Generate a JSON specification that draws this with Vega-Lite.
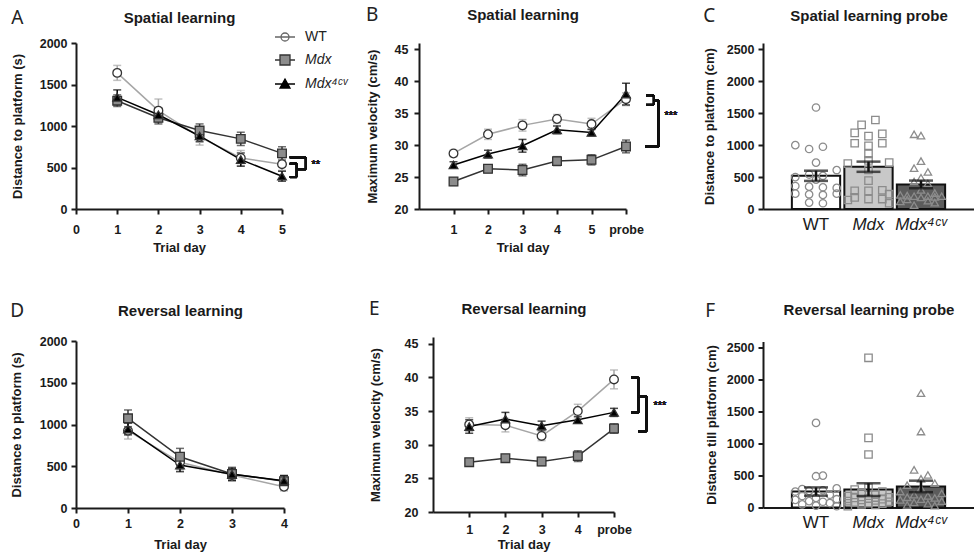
{
  "$schema": "https://vega.github.io/schema/vega-lite/v6.json",
  "background": "white",
  "padding": {"left": 10, "top": 6, "right": 0, "bottom": 0},
  "datasets": {
    "spatialDist": [
      {"group": "WT", "day": 1, "mean": 1640, "sem": 90},
      {"group": "WT", "day": 2, "mean": 1185, "sem": 140},
      {"group": "WT", "day": 3, "mean": 870, "sem": 100},
      {"group": "WT", "day": 4, "mean": 615, "sem": 90},
      {"group": "WT", "day": 5, "mean": 540, "sem": 75},
      {"group": "Mdx", "day": 1, "mean": 1305, "sem": 70},
      {"group": "Mdx", "day": 2, "mean": 1100, "sem": 75},
      {"group": "Mdx", "day": 3, "mean": 945, "sem": 80},
      {"group": "Mdx", "day": 4, "mean": 845, "sem": 80},
      {"group": "Mdx", "day": 5, "mean": 670, "sem": 80},
      {"group": "Mdx4cv", "day": 1, "mean": 1345, "sem": 90},
      {"group": "Mdx4cv", "day": 2, "mean": 1135, "sem": 80},
      {"group": "Mdx4cv", "day": 3, "mean": 880, "sem": 70},
      {"group": "Mdx4cv", "day": 4, "mean": 595, "sem": 80},
      {"group": "Mdx4cv", "day": 5, "mean": 395, "sem": 60}
    ],
    "spatialVel": [
      {"group": "WT", "day": 1, "mean": 28.7, "sem": 0.5},
      {"group": "WT", "day": 2, "mean": 31.7, "sem": 0.8},
      {"group": "WT", "day": 3, "mean": 33.1, "sem": 0.9},
      {"group": "WT", "day": 4, "mean": 34.1, "sem": 0.7},
      {"group": "WT", "day": 5, "mean": 33.3, "sem": 0.9},
      {"group": "WT", "day": 6, "mean": 37.2, "sem": 1.0},
      {"group": "Mdx", "day": 1, "mean": 24.3, "sem": 0.6},
      {"group": "Mdx", "day": 2, "mean": 26.3, "sem": 0.6},
      {"group": "Mdx", "day": 3, "mean": 26.1, "sem": 0.9},
      {"group": "Mdx", "day": 4, "mean": 27.5, "sem": 0.7},
      {"group": "Mdx", "day": 5, "mean": 27.7, "sem": 0.8},
      {"group": "Mdx", "day": 6, "mean": 29.8, "sem": 1.0},
      {"group": "Mdx4cv", "day": 1, "mean": 26.9, "sem": 0.5},
      {"group": "Mdx4cv", "day": 2, "mean": 28.6, "sem": 0.6},
      {"group": "Mdx4cv", "day": 3, "mean": 29.9, "sem": 1.0},
      {"group": "Mdx4cv", "day": 4, "mean": 32.4, "sem": 0.6},
      {"group": "Mdx4cv", "day": 5, "mean": 32.0, "sem": 0.5},
      {"group": "Mdx4cv", "day": 6, "mean": 38.0, "sem": 1.7}
    ],
    "probeSpatialSummary": [
      {"group": "WT", "mean": 520, "sem": 80},
      {"group": "Mdx", "mean": 662, "sem": 80},
      {"group": "Mdx4cv", "mean": 385, "sem": 60}
    ],
    "probeSpatialPoints": [
      {"group": "WT", "value": 1590, "slot": 4}, {"group": "WT", "value": 1000, "slot": 1}, {"group": "WT", "value": 940, "slot": 3}, {"group": "WT", "value": 975, "slot": 5},
      {"group": "WT", "value": 727, "slot": 4}, {"group": "WT", "value": 610, "slot": 7}, {"group": "WT", "value": 540, "slot": 3}, {"group": "WT", "value": 520, "slot": 5},
      {"group": "WT", "value": 500, "slot": 1}, {"group": "WT", "value": 460, "slot": 4}, {"group": "WT", "value": 360, "slot": 1}, {"group": "WT", "value": 350, "slot": 3},
      {"group": "WT", "value": 340, "slot": 5}, {"group": "WT", "value": 330, "slot": 7}, {"group": "WT", "value": 240, "slot": 1}, {"group": "WT", "value": 230, "slot": 3},
      {"group": "WT", "value": 220, "slot": 5}, {"group": "WT", "value": 240, "slot": 7}, {"group": "WT", "value": 100, "slot": 3}, {"group": "WT", "value": 90, "slot": 5},
      {"group": "Mdx", "value": 1394, "slot": 5}, {"group": "Mdx", "value": 1318, "slot": 3}, {"group": "Mdx", "value": 1192, "slot": 2}, {"group": "Mdx", "value": 1141, "slot": 4},
      {"group": "Mdx", "value": 1177, "slot": 6}, {"group": "Mdx", "value": 1030, "slot": 2}, {"group": "Mdx", "value": 990, "slot": 4}, {"group": "Mdx", "value": 1030, "slot": 6},
      {"group": "Mdx", "value": 864, "slot": 4}, {"group": "Mdx", "value": 760, "slot": 4}, {"group": "Mdx", "value": 712, "slot": 1}, {"group": "Mdx", "value": 727, "slot": 7},
      {"group": "Mdx", "value": 611, "slot": 4}, {"group": "Mdx", "value": 444, "slot": 4}, {"group": "Mdx", "value": 283, "slot": 2}, {"group": "Mdx", "value": 283, "slot": 4},
      {"group": "Mdx", "value": 293, "slot": 6}, {"group": "Mdx", "value": 182, "slot": 2}, {"group": "Mdx", "value": 156, "slot": 4}, {"group": "Mdx", "value": 156, "slot": 6},
      {"group": "Mdx", "value": 141, "slot": 1}, {"group": "Mdx", "value": 232, "slot": 7}, {"group": "Mdx", "value": 91, "slot": 7},
      {"group": "Mdx4cv", "value": 1170, "slot": 3}, {"group": "Mdx4cv", "value": 1150, "slot": 4}, {"group": "Mdx4cv", "value": 750, "slot": 4}, {"group": "Mdx4cv", "value": 640, "slot": 3},
      {"group": "Mdx4cv", "value": 580, "slot": 5}, {"group": "Mdx4cv", "value": 490, "slot": 4}, {"group": "Mdx4cv", "value": 430, "slot": 3}, {"group": "Mdx4cv", "value": 400, "slot": 5},
      {"group": "Mdx4cv", "value": 300, "slot": 4}, {"group": "Mdx4cv", "value": 250, "slot": 6}, {"group": "Mdx4cv", "value": 220, "slot": 1}, {"group": "Mdx4cv", "value": 210, "slot": 2},
      {"group": "Mdx4cv", "value": 200, "slot": 3}, {"group": "Mdx4cv", "value": 180, "slot": 4}, {"group": "Mdx4cv", "value": 200, "slot": 5}, {"group": "Mdx4cv", "value": 190, "slot": 6},
      {"group": "Mdx4cv", "value": 200, "slot": 7}, {"group": "Mdx4cv", "value": 150, "slot": 2}, {"group": "Mdx4cv", "value": 130, "slot": 5}, {"group": "Mdx4cv", "value": 100, "slot": 6},
      {"group": "Mdx4cv", "value": 60, "slot": 3}, {"group": "Mdx4cv", "value": 120, "slot": 1}
    ],
    "revDist": [
      {"group": "WT", "day": 1, "mean": 926, "sem": 100},
      {"group": "WT", "day": 2, "mean": 547, "sem": 90},
      {"group": "WT", "day": 3, "mean": 395, "sem": 70},
      {"group": "WT", "day": 4, "mean": 255, "sem": 50},
      {"group": "Mdx", "day": 1, "mean": 1074, "sem": 100},
      {"group": "Mdx", "day": 2, "mean": 614, "sem": 100},
      {"group": "Mdx", "day": 3, "mean": 407, "sem": 80},
      {"group": "Mdx", "day": 4, "mean": 320, "sem": 70},
      {"group": "Mdx4cv", "day": 1, "mean": 946, "sem": 70},
      {"group": "Mdx4cv", "day": 2, "mean": 515, "sem": 80},
      {"group": "Mdx4cv", "day": 3, "mean": 404, "sem": 70},
      {"group": "Mdx4cv", "day": 4, "mean": 327, "sem": 60}
    ],
    "revVel": [
      {"group": "WT", "day": 1, "mean": 33.0, "sem": 1.0},
      {"group": "WT", "day": 2, "mean": 32.9, "sem": 1.0},
      {"group": "WT", "day": 3, "mean": 31.3, "sem": 0.7},
      {"group": "WT", "day": 4, "mean": 35.0, "sem": 1.0},
      {"group": "WT", "day": 5, "mean": 39.7, "sem": 1.4},
      {"group": "Mdx", "day": 1, "mean": 27.4, "sem": 0.5},
      {"group": "Mdx", "day": 2, "mean": 28.0, "sem": 0.5},
      {"group": "Mdx", "day": 3, "mean": 27.5, "sem": 0.6},
      {"group": "Mdx", "day": 4, "mean": 28.3, "sem": 0.8},
      {"group": "Mdx", "day": 5, "mean": 32.4, "sem": 0.7},
      {"group": "Mdx4cv", "day": 1, "mean": 32.7, "sem": 1.0},
      {"group": "Mdx4cv", "day": 2, "mean": 33.8, "sem": 1.0},
      {"group": "Mdx4cv", "day": 3, "mean": 32.8, "sem": 0.7},
      {"group": "Mdx4cv", "day": 4, "mean": 33.7, "sem": 0.5},
      {"group": "Mdx4cv", "day": 5, "mean": 34.8, "sem": 0.6}
    ],
    "probeRevSummary": [
      {"group": "WT", "mean": 250, "sem": 65},
      {"group": "Mdx", "mean": 280, "sem": 100},
      {"group": "Mdx4cv", "mean": 330, "sem": 90}
    ],
    "probeRevPoints": [
      {"group": "WT", "value": 1325, "slot": 4}, {"group": "WT", "value": 490, "slot": 4}, {"group": "WT", "value": 500, "slot": 5}, {"group": "WT", "value": 300, "slot": 7},
      {"group": "WT", "value": 290, "slot": 2}, {"group": "WT", "value": 270, "slot": 5}, {"group": "WT", "value": 260, "slot": 3}, {"group": "WT", "value": 250, "slot": 1},
      {"group": "WT", "value": 200, "slot": 6}, {"group": "WT", "value": 180, "slot": 2}, {"group": "WT", "value": 150, "slot": 4}, {"group": "WT", "value": 130, "slot": 7},
      {"group": "WT", "value": 120, "slot": 1}, {"group": "WT", "value": 100, "slot": 3}, {"group": "WT", "value": 90, "slot": 5}, {"group": "WT", "value": 70, "slot": 6},
      {"group": "WT", "value": 50, "slot": 2}, {"group": "WT", "value": 30, "slot": 4}, {"group": "WT", "value": 20, "slot": 7},
      {"group": "Mdx", "value": 2345, "slot": 4}, {"group": "Mdx", "value": 1090, "slot": 4}, {"group": "Mdx", "value": 830, "slot": 4}, {"group": "Mdx", "value": 310, "slot": 4},
      {"group": "Mdx", "value": 280, "slot": 2}, {"group": "Mdx", "value": 250, "slot": 6}, {"group": "Mdx", "value": 220, "slot": 3}, {"group": "Mdx", "value": 200, "slot": 5},
      {"group": "Mdx", "value": 180, "slot": 1}, {"group": "Mdx", "value": 160, "slot": 7}, {"group": "Mdx", "value": 150, "slot": 2}, {"group": "Mdx", "value": 140, "slot": 4},
      {"group": "Mdx", "value": 130, "slot": 6}, {"group": "Mdx", "value": 120, "slot": 3}, {"group": "Mdx", "value": 110, "slot": 5}, {"group": "Mdx", "value": 100, "slot": 1},
      {"group": "Mdx", "value": 90, "slot": 7}, {"group": "Mdx", "value": 80, "slot": 2}, {"group": "Mdx", "value": 70, "slot": 4}, {"group": "Mdx", "value": 60, "slot": 6},
      {"group": "Mdx", "value": 50, "slot": 3}, {"group": "Mdx", "value": 40, "slot": 5}, {"group": "Mdx", "value": 20, "slot": 1},
      {"group": "Mdx4cv", "value": 1790, "slot": 4}, {"group": "Mdx4cv", "value": 1190, "slot": 4}, {"group": "Mdx4cv", "value": 590, "slot": 3}, {"group": "Mdx4cv", "value": 510, "slot": 5},
      {"group": "Mdx4cv", "value": 450, "slot": 4}, {"group": "Mdx4cv", "value": 380, "slot": 6}, {"group": "Mdx4cv", "value": 350, "slot": 2}, {"group": "Mdx4cv", "value": 300, "slot": 4},
      {"group": "Mdx4cv", "value": 250, "slot": 1}, {"group": "Mdx4cv", "value": 220, "slot": 7}, {"group": "Mdx4cv", "value": 200, "slot": 3}, {"group": "Mdx4cv", "value": 180, "slot": 5},
      {"group": "Mdx4cv", "value": 160, "slot": 2}, {"group": "Mdx4cv", "value": 150, "slot": 6}, {"group": "Mdx4cv", "value": 130, "slot": 4}, {"group": "Mdx4cv", "value": 120, "slot": 1},
      {"group": "Mdx4cv", "value": 100, "slot": 7}, {"group": "Mdx4cv", "value": 80, "slot": 3}, {"group": "Mdx4cv", "value": 60, "slot": 5}, {"group": "Mdx4cv", "value": 40, "slot": 2},
      {"group": "Mdx4cv", "value": 30, "slot": 6}
    ]
  },
  "config": {
    "view": {"stroke": null},
    "font": "Liberation Sans",
    "axis": {
      "labelFont": "Liberation Sans", "labelFontWeight": "bold", "labelFontSize": 12.5, "labelColor": "#1a1a1a",
      "titleFont": "Liberation Sans", "titleFontWeight": "bold", "titleFontSize": 13, "titleColor": "#1a1a1a",
      "domainColor": "#1a1a1a", "domainWidth": 2, "tickColor": "#1a1a1a", "tickWidth": 2, "tickSize": 5,
      "labelPadding": 4, "grid": false, "labelFlush": false, "labelOverlap": false
    },
    "axisX": {"titlePadding": 6, "labelPadding": 9, "labelAngle": 0},
    "title": {"font": "Noto Sans", "fontWeight": "normal", "fontSize": 19, "anchor": "start", "frame": "bounds", "color": "#222222", "offset": -18}
  },
  "spacing": 45,
  "resolve": {"scale": {"color": "independent", "fill": "independent", "shape": "independent", "stroke": "independent"}},
  "vconcat": [
    {
      "bounds": "flush",
      "spacing": 137,
      "resolve": {"scale": {"color": "independent", "fill": "independent", "shape": "independent", "stroke": "independent"}},
      "hconcat": [
        {
          "width": 206, "height": 166,
          "title": {"text": "A"},
          "data": {"name": "spatialDist"},
          "resolve": {"scale": {"shape": "independent", "fill": "independent", "stroke": "independent"}},
          "layer": [
            {"mark": {"type": "line", "strokeWidth": 1.5},
             "encoding": {
               "x": {"field": "day", "type": "quantitative", "scale": {"domain": [0, 5]}, "axis": {"orient": "bottom", "values": [0, 1, 2, 3, 4, 5], "format": "d", "title": "Trial day"}},
               "y": {"field": "mean", "type": "quantitative", "scale": {"domain": [0, 2000]}, "axis": {"orient": "left", "values": [0, 500, 1000, 1500, 2000], "format": "d", "title": "Distance to platform (s)", "titlePadding": 15}},
               "color": {"field": "group", "type": "nominal", "scale": {"domain": ["WT", "Mdx", "Mdx4cv"], "range": ["#a6a6a6", "#333333", "#000000"]}, "legend": null}
             }},
            {"mark": {"type": "errorbar", "ticks": {"size": 8}, "thickness": 1.5},
             "encoding": {
               "x": {"field": "day", "type": "quantitative", "axis": null},
               "y": {"field": "mean", "type": "quantitative", "axis": null},
               "yError": {"field": "sem"},
               "color": {"field": "group", "type": "nominal", "legend": null}
             }},
            {"mark": {"type": "point", "filled": true, "opacity": 1, "stroke": "#333333", "strokeWidth": 1.3, "size": 75},
             "encoding": {
               "x": {"field": "day", "type": "quantitative", "axis": {"orient": "top", "title": "Spatial learning", "domain": false, "ticks": false, "labels": false, "titleFontSize": 15, "titlePadding": 18}},
               "y": {"field": "mean", "type": "quantitative", "axis": {"orient": "right", "title": null, "domain": false, "ticks": false, "labels": false}},
               "shape": {"field": "group", "type": "nominal", "scale": {"domain": ["WT", "Mdx", "Mdx4cv"], "range": ["circle", "square", "triangle-up"]}, "legend": null},
               "fill": {"field": "group", "type": "nominal", "scale": {"domain": ["WT", "Mdx", "Mdx4cv"], "range": ["#ffffff", "#8c8c8c", "#000000"]}, "legend": null}
             }},
            {"transform": [{"filter": "false"}],
             "mark": {"type": "point", "filled": true, "opacity": 1, "strokeWidth": 1.3},
             "encoding": {
               "shape": {"field": "group", "type": "nominal",
                 "scale": {"domain": ["WT", "Mdx", "Mdx4cv"], "range": ["M-1,0H1M-0.4,0A0.4,0.4,0,1,0,0.4,0A0.4,0.4,0,1,0,-0.4,0Z", "M-1,0H-0.5M0.5,0H1M-0.5,-0.5H0.5V0.5H-0.5Z", "M-1,0H1M0,-0.5L0.5,0.4H-0.5Z"]},
                 "legend": {"orient": "none", "legendX": 198, "legendY": -17, "title": null, "symbolSize": 400, "symbolStrokeWidth": 1.3, "labelFont": "Liberation Sans", "labelFontSize": 14, "labelFontWeight": "normal", "labelColor": "#222222", "labelFontStyle": {"expr": "datum.label == 'WT' ? 'normal' : 'italic'"}, "labelExpr": "datum.label == 'Mdx4cv' ? 'Mdx⁴ᶜᵛ' : datum.label", "rowPadding": 5, "labelOffset": 9}},
               "fill": {"field": "group", "type": "nominal",
                 "scale": {"domain": ["WT", "Mdx", "Mdx4cv"], "range": ["#ffffff", "#8c8c8c", "#000000"]},
                 "legend": {"orient": "none", "legendX": 198, "legendY": -17, "title": null, "symbolSize": 400, "symbolStrokeWidth": 1.3, "labelFont": "Liberation Sans", "labelFontSize": 14, "labelFontWeight": "normal", "labelColor": "#222222", "labelFontStyle": {"expr": "datum.label == 'WT' ? 'normal' : 'italic'"}, "labelExpr": "datum.label == 'Mdx4cv' ? 'Mdx⁴ᶜᵛ' : datum.label", "rowPadding": 5, "labelOffset": 9}},
               "stroke": {"field": "group", "type": "nominal",
                 "scale": {"domain": ["WT", "Mdx", "Mdx4cv"], "range": ["#666666", "#333333", "#000000"]},
                 "legend": {"orient": "none", "legendX": 198, "legendY": -17, "title": null, "symbolSize": 400, "symbolStrokeWidth": 1.3, "labelFont": "Liberation Sans", "labelFontSize": 14, "labelFontWeight": "normal", "labelColor": "#222222", "labelFontStyle": {"expr": "datum.label == 'WT' ? 'normal' : 'italic'"}, "labelExpr": "datum.label == 'Mdx4cv' ? 'Mdx⁴ᶜᵛ' : datum.label", "rowPadding": 5, "labelOffset": 9}}
             }},
            {"mark": {"type": "rule", "strokeWidth": 2, "color": "#111111", "clip": false}, "encoding": {"x": {"datum": 5.19, "axis": null}, "x2": {"datum": 5.58}, "y": {"datum": 623, "axis": null}}},
            {"mark": {"type": "rule", "strokeWidth": 2, "color": "#111111", "clip": false}, "encoding": {"x": {"datum": 5.58, "axis": null}, "y": {"datum": 623, "axis": null}, "y2": {"datum": 480}}},
            {"mark": {"type": "rule", "strokeWidth": 2, "color": "#111111", "clip": false}, "encoding": {"x": {"datum": 5.36, "axis": null}, "x2": {"datum": 5.58}, "y": {"datum": 480, "axis": null}}},
            {"mark": {"type": "rule", "strokeWidth": 2, "color": "#111111", "clip": false}, "encoding": {"x": {"datum": 5.19, "axis": null}, "x2": {"datum": 5.36}, "y": {"datum": 545, "axis": null}}},
            {"mark": {"type": "rule", "strokeWidth": 2, "color": "#111111", "clip": false}, "encoding": {"x": {"datum": 5.36, "axis": null}, "y": {"datum": 545, "axis": null}, "y2": {"datum": 385}}},
            {"mark": {"type": "rule", "strokeWidth": 2, "color": "#111111", "clip": false}, "encoding": {"x": {"datum": 5.19, "axis": null}, "x2": {"datum": 5.36}, "y": {"datum": 385, "axis": null}}},
            {"mark": {"type": "text", "text": "**", "fontSize": 11, "color": "#222222", "clip": false}, "encoding": {"x": {"datum": 5.82, "axis": null}, "y": {"datum": 530, "axis": null}}}
          ]
        },
        {
          "width": 207, "height": 166,
          "title": {"text": "B"},
          "data": {"name": "spatialVel"},
          "layer": [
            {"mark": {"type": "line", "strokeWidth": 1.5},
             "encoding": {
               "x": {"field": "day", "type": "quantitative", "scale": {"domain": [0, 6]}, "axis": {"orient": "bottom", "values": [1, 2, 3, 4, 5, 6], "labelExpr": "datum.value == 6 ? 'probe' : datum.label", "title": "Trial day"}},
               "y": {"field": "mean", "type": "quantitative", "scale": {"domain": [20, 45]}, "axis": {"orient": "left", "values": [20, 25, 30, 35, 40, 45], "title": "Maximum velocity (cm/s)", "titlePadding": 15, "labelPadding": 6}},
               "color": {"field": "group", "type": "nominal", "scale": {"domain": ["WT", "Mdx", "Mdx4cv"], "range": ["#a6a6a6", "#333333", "#000000"]}, "legend": null}
             }},
            {"mark": {"type": "errorbar", "ticks": {"size": 8}, "thickness": 1.5},
             "encoding": {
               "x": {"field": "day", "type": "quantitative", "axis": null},
               "y": {"field": "mean", "type": "quantitative", "axis": null},
               "yError": {"field": "sem"},
               "color": {"field": "group", "type": "nominal", "legend": null}
             }},
            {"mark": {"type": "point", "filled": true, "opacity": 1, "stroke": "#333333", "strokeWidth": 1.3, "size": 75},
             "encoding": {
               "x": {"field": "day", "type": "quantitative", "axis": {"orient": "top", "title": "Spatial learning", "domain": false, "ticks": false, "labels": false, "titleFontSize": 15, "titlePadding": 21}},
               "y": {"field": "mean", "type": "quantitative", "axis": {"orient": "right", "title": null, "domain": false, "ticks": false, "labels": false}},
               "shape": {"field": "group", "type": "nominal", "scale": {"domain": ["WT", "Mdx", "Mdx4cv"], "range": ["circle", "square", "triangle-up"]}, "legend": null},
               "fill": {"field": "group", "type": "nominal", "scale": {"domain": ["WT", "Mdx", "Mdx4cv"], "range": ["#ffffff", "#8c8c8c", "#000000"]}, "legend": null}
             }},
            {"mark": {"type": "rule", "strokeWidth": 2, "color": "#111111", "clip": false}, "encoding": {"x": {"datum": 6.58, "axis": null}, "x2": {"datum": 6.81}, "y": {"datum": 37.8, "axis": null}}},
            {"mark": {"type": "rule", "strokeWidth": 2, "color": "#111111", "clip": false}, "encoding": {"x": {"datum": 6.81, "axis": null}, "y": {"datum": 37.8, "axis": null}, "y2": {"datum": 36.3}}},
            {"mark": {"type": "rule", "strokeWidth": 2, "color": "#111111", "clip": false}, "encoding": {"x": {"datum": 6.58, "axis": null}, "x2": {"datum": 6.81}, "y": {"datum": 36.3, "axis": null}}},
            {"mark": {"type": "rule", "strokeWidth": 2, "color": "#111111", "clip": false}, "encoding": {"x": {"datum": 6.81, "axis": null}, "x2": {"datum": 6.95}, "y": {"datum": 37.0, "axis": null}}},
            {"mark": {"type": "rule", "strokeWidth": 2, "color": "#111111", "clip": false}, "encoding": {"x": {"datum": 6.95, "axis": null}, "y": {"datum": 37.0, "axis": null}, "y2": {"datum": 29.8}}},
            {"mark": {"type": "rule", "strokeWidth": 2, "color": "#111111", "clip": false}, "encoding": {"x": {"datum": 6.56, "axis": null}, "x2": {"datum": 6.95}, "y": {"datum": 29.8, "axis": null}}},
            {"mark": {"type": "text", "text": "***", "fontSize": 11, "color": "#222222", "clip": false}, "encoding": {"x": {"datum": 7.3, "axis": null}, "y": {"datum": 34.5, "axis": null}}}
          ]
        },
        {
          "width": 211, "height": 166,
          "title": {"text": "C"},
          "resolve": {"scale": {"xOffset": "independent"}},
          "layer": [
            {"data": {"name": "probeSpatialSummary"},
             "mark": {"type": "bar", "stroke": "#111111", "strokeWidth": 2},
             "encoding": {
               "x": {"field": "group", "type": "nominal", "sort": null, "scale": {"domain": ["WT", "Mdx", "Mdx4cv"], "paddingInner": 0.08, "paddingOuter": 0.55},
                 "axis": {"orient": "bottom", "title": null, "ticks": false, "labelFont": "Liberation Sans", "labelFontSize": 17, "labelFontWeight": "normal", "labelPadding": 7, "labelFontStyle": {"expr": "datum.value == 'WT' ? 'normal' : 'italic'"}, "labelExpr": "datum.label == 'Mdx4cv' ? 'Mdx⁴ᶜᵛ' : datum.label"}},
               "y": {"field": "mean", "type": "quantitative", "scale": {"domain": [0, 2500]}, "axis": {"orient": "left", "values": [0, 500, 1000, 1500, 2000, 2500], "format": "d", "title": "Distance to platform (cm)", "titlePadding": 10}},
               "fill": {"field": "group", "type": "nominal", "scale": {"domain": ["WT", "Mdx", "Mdx4cv"], "range": ["#ffffff", "#c8c8c8", "#5c5c5c"]}, "legend": null}
             }},
            {"data": {"name": "probeSpatialPoints"},
             "mark": {"type": "point", "filled": false, "opacity": 1, "color": "#8c8c8c", "strokeWidth": 1.3, "size": 55},
             "encoding": {
               "x": {"field": "group", "type": "nominal", "axis": {"orient": "top", "title": "Spatial learning probe", "domain": false, "ticks": false, "labels": false, "titleFontSize": 15, "titlePadding": 20}},
               "xOffset": {"field": "slot", "type": "ordinal", "scale": {"domain": [1, 2, 3, 4, 5, 6, 7]}},
               "y": {"field": "value", "type": "quantitative", "axis": {"orient": "right", "title": null, "domain": false, "ticks": false, "labels": false}},
               "shape": {"field": "group", "type": "nominal", "scale": {"domain": ["WT", "Mdx", "Mdx4cv"], "range": ["circle", "square", "triangle-up"]}, "legend": null}
             }},
            {"data": {"name": "probeSpatialSummary"},
             "mark": {"type": "errorbar", "ticks": {"size": 24}, "thickness": 2.5, "color": "#111111"},
             "encoding": {
               "x": {"field": "group", "type": "nominal", "axis": null},
               "y": {"field": "mean", "type": "quantitative", "axis": null},
               "yError": {"field": "sem"}
             }}
          ]
        }
      ]
    },
    {
      "bounds": "flush",
      "spacing": 149,
      "center": true,
      "resolve": {"scale": {"color": "independent", "fill": "independent", "shape": "independent", "stroke": "independent"}},
      "hconcat": [
        {
          "width": 208, "height": 167,
          "title": {"text": "D"},
          "data": {"name": "revDist"},
          "layer": [
            {"mark": {"type": "line", "strokeWidth": 1.5},
             "encoding": {
               "x": {"field": "day", "type": "quantitative", "scale": {"domain": [0, 4]}, "axis": {"orient": "bottom", "values": [0, 1, 2, 3, 4], "format": "d", "title": "Trial day", "labelPadding": 4, "titlePadding": 9}},
               "y": {"field": "mean", "type": "quantitative", "scale": {"domain": [0, 2000]}, "axis": {"orient": "left", "values": [0, 500, 1000, 1500, 2000], "format": "d", "title": "Distance to platform (s)", "titlePadding": 16}},
               "color": {"field": "group", "type": "nominal", "scale": {"domain": ["WT", "Mdx", "Mdx4cv"], "range": ["#a6a6a6", "#333333", "#000000"]}, "legend": null}
             }},
            {"mark": {"type": "errorbar", "ticks": {"size": 8}, "thickness": 1.5},
             "encoding": {
               "x": {"field": "day", "type": "quantitative", "axis": null},
               "y": {"field": "mean", "type": "quantitative", "axis": null},
               "yError": {"field": "sem"},
               "color": {"field": "group", "type": "nominal", "legend": null}
             }},
            {"mark": {"type": "point", "filled": true, "opacity": 1, "stroke": "#333333", "strokeWidth": 1.3, "size": 75},
             "encoding": {
               "x": {"field": "day", "type": "quantitative", "axis": {"orient": "top", "title": "Reversal learning", "domain": false, "ticks": false, "labels": false, "titleFontSize": 15, "titlePadding": 23}},
               "y": {"field": "mean", "type": "quantitative", "axis": {"orient": "right", "title": null, "domain": false, "ticks": false, "labels": false}},
               "shape": {"field": "group", "type": "nominal", "scale": {"domain": ["WT", "Mdx", "Mdx4cv"], "range": ["circle", "square", "triangle-up"]}, "legend": null},
               "fill": {"field": "group", "type": "nominal", "scale": {"domain": ["WT", "Mdx", "Mdx4cv"], "range": ["#ffffff", "#8c8c8c", "#000000"]}, "legend": null}
             }}
          ]
        },
        {
          "width": 181, "height": 175,
          "title": {"text": "E"},
          "data": {"name": "revVel"},
          "layer": [
            {"mark": {"type": "line", "strokeWidth": 1.5},
             "encoding": {
               "x": {"field": "day", "type": "quantitative", "scale": {"domain": [0, 5]}, "axis": {"orient": "bottom", "values": [1, 2, 3, 4, 5], "labelExpr": "datum.value == 5 ? 'probe' : datum.label", "title": "Trial day", "labelPadding": 6, "titlePadding": 3}},
               "y": {"field": "mean", "type": "quantitative", "scale": {"domain": [20, 45]}, "axis": {"orient": "left", "values": [20, 25, 30, 35, 40, 45], "title": "Maximum velocity (cm/s)", "titlePadding": 22, "labelPadding": 10}},
               "color": {"field": "group", "type": "nominal", "scale": {"domain": ["WT", "Mdx", "Mdx4cv"], "range": ["#a6a6a6", "#333333", "#000000"]}, "legend": null}
             }},
            {"mark": {"type": "errorbar", "ticks": {"size": 8}, "thickness": 1.5},
             "encoding": {
               "x": {"field": "day", "type": "quantitative", "axis": null},
               "y": {"field": "mean", "type": "quantitative", "axis": null},
               "yError": {"field": "sem"},
               "color": {"field": "group", "type": "nominal", "legend": null}
             }},
            {"mark": {"type": "point", "filled": true, "opacity": 1, "stroke": "#333333", "strokeWidth": 1.3, "size": 75},
             "encoding": {
               "x": {"field": "day", "type": "quantitative", "axis": {"orient": "top", "title": "Reversal learning", "domain": false, "ticks": false, "labels": false, "titleFontSize": 15, "titlePadding": 21}},
               "y": {"field": "mean", "type": "quantitative", "axis": {"orient": "right", "title": null, "domain": false, "ticks": false, "labels": false}},
               "shape": {"field": "group", "type": "nominal", "scale": {"domain": ["WT", "Mdx", "Mdx4cv"], "range": ["circle", "square", "triangle-up"]}, "legend": null},
               "fill": {"field": "group", "type": "nominal", "scale": {"domain": ["WT", "Mdx", "Mdx4cv"], "range": ["#ffffff", "#8c8c8c", "#000000"]}, "legend": null}
             }},
            {"mark": {"type": "rule", "strokeWidth": 2, "color": "#111111", "clip": false}, "encoding": {"x": {"datum": 5.47, "axis": null}, "x2": {"datum": 5.67}, "y": {"datum": 40.0, "axis": null}}},
            {"mark": {"type": "rule", "strokeWidth": 2, "color": "#111111", "clip": false}, "encoding": {"x": {"datum": 5.67, "axis": null}, "y": {"datum": 40.0, "axis": null}, "y2": {"datum": 34.75}}},
            {"mark": {"type": "rule", "strokeWidth": 2, "color": "#111111", "clip": false}, "encoding": {"x": {"datum": 5.47, "axis": null}, "x2": {"datum": 5.67}, "y": {"datum": 34.75, "axis": null}}},
            {"mark": {"type": "rule", "strokeWidth": 2, "color": "#111111", "clip": false}, "encoding": {"x": {"datum": 5.67, "axis": null}, "x2": {"datum": 5.9}, "y": {"datum": 37.2, "axis": null}}},
            {"mark": {"type": "rule", "strokeWidth": 2, "color": "#111111", "clip": false}, "encoding": {"x": {"datum": 5.9, "axis": null}, "y": {"datum": 37.2, "axis": null}, "y2": {"datum": 32.0}}},
            {"mark": {"type": "rule", "strokeWidth": 2, "color": "#111111", "clip": false}, "encoding": {"x": {"datum": 5.67, "axis": null}, "x2": {"datum": 5.9}, "y": {"datum": 32.0, "axis": null}}},
            {"mark": {"type": "text", "text": "***", "fontSize": 11, "color": "#222222", "clip": false}, "encoding": {"x": {"datum": 6.27, "axis": null}, "y": {"datum": 35.8, "axis": null}}}
          ]
        },
        {
          "width": 211, "height": 166,
          "title": {"text": "F"},
          "resolve": {"scale": {"xOffset": "independent"}},
          "layer": [
            {"data": {"name": "probeRevSummary"},
             "mark": {"type": "bar", "stroke": "#111111", "strokeWidth": 2},
             "encoding": {
               "x": {"field": "group", "type": "nominal", "sort": null, "scale": {"domain": ["WT", "Mdx", "Mdx4cv"], "paddingInner": 0.08, "paddingOuter": 0.55},
                 "axis": {"orient": "bottom", "title": null, "ticks": false, "labelFont": "Liberation Sans", "labelFontSize": 17, "labelFontWeight": "normal", "labelPadding": 7, "labelFontStyle": {"expr": "datum.value == 'WT' ? 'normal' : 'italic'"}, "labelExpr": "datum.label == 'Mdx4cv' ? 'Mdx⁴ᶜᵛ' : datum.label"}},
               "y": {"field": "mean", "type": "quantitative", "scale": {"domain": [0, 2500]}, "axis": {"orient": "left", "values": [0, 500, 1000, 1500, 2000, 2500], "format": "d", "title": "Distance till platform (cm)", "titlePadding": 8}},
               "fill": {"field": "group", "type": "nominal", "scale": {"domain": ["WT", "Mdx", "Mdx4cv"], "range": ["#ffffff", "#c8c8c8", "#5c5c5c"]}, "legend": null}
             }},
            {"data": {"name": "probeRevPoints"},
             "mark": {"type": "point", "filled": false, "opacity": 1, "color": "#8c8c8c", "strokeWidth": 1.3, "size": 55},
             "encoding": {
               "x": {"field": "group", "type": "nominal", "axis": {"orient": "top", "title": "Reversal learning probe", "domain": false, "ticks": false, "labels": false, "titleFontSize": 15, "titlePadding": 24}},
               "xOffset": {"field": "slot", "type": "ordinal", "scale": {"domain": [1, 2, 3, 4, 5, 6, 7]}},
               "y": {"field": "value", "type": "quantitative", "axis": {"orient": "right", "title": null, "domain": false, "ticks": false, "labels": false}},
               "shape": {"field": "group", "type": "nominal", "scale": {"domain": ["WT", "Mdx", "Mdx4cv"], "range": ["circle", "square", "triangle-up"]}, "legend": null}
             }},
            {"data": {"name": "probeRevSummary"},
             "mark": {"type": "errorbar", "ticks": {"size": 24}, "thickness": 2.5, "color": "#111111"},
             "encoding": {
               "x": {"field": "group", "type": "nominal", "axis": null},
               "y": {"field": "mean", "type": "quantitative", "axis": null},
               "yError": {"field": "sem"}
             }}
          ]
        }
      ]
    }
  ]
}
